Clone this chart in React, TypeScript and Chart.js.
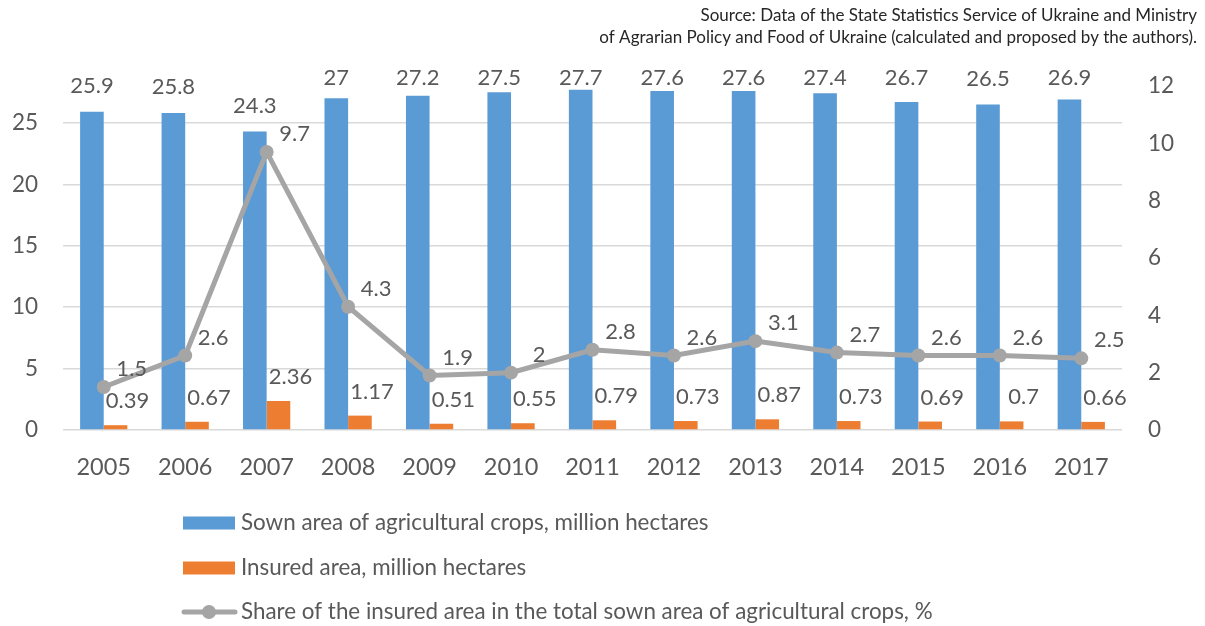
import React, { useEffect, useRef } from "react";
import { Chart, registerables } from "chart.js";

Chart.register(...registerables);

const years = ["2005", "2006", "2007", "2008", "2009", "2010", "2011", "2012", "2013", "2014", "2015", "2016", "2017"];
const sownArea = [25.9, 25.8, 24.3, 27, 27.2, 27.5, 27.7, 27.6, 27.6, 27.4, 26.7, 26.5, 26.9];
const insuredArea = [0.39, 0.67, 2.36, 1.17, 0.51, 0.55, 0.79, 0.73, 0.87, 0.73, 0.69, 0.7, 0.66];
const insuredShare = [1.5, 2.6, 9.7, 4.3, 1.9, 2, 2.8, 2.6, 3.1, 2.7, 2.6, 2.6, 2.5];

const seriesNames = [
  "Sown area of agricultural crops, million hectares",
  "Insured area, million hectares",
  "Share of the insured area in the total sown area of agricultural crops, %",
];
const sourceLines = [
  "Source: Data of the State Statistics Service of Ukraine and Ministry",
  "of Agrarian Policy and Food of Ukraine (calculated and proposed by the authors).",
];

const leftMax = 28;
const leftStep = 5;
const rightMax = 12;
const rightStep = 2;

const BLUE = "#5B9BD5";
const ORANGE = "#ED7D31";
const GREY = "#A5A5A5";
const TEXT = "#595959";
const FONT = "Lato, 'Open Sans', sans-serif";

const sourcePlugin = {
  id: "sourceText",
  afterDraw(chart: any) {
    const { ctx } = chart;
    ctx.save();
    ctx.font = `17px ${FONT}`;
    ctx.fillStyle = "#262626";
    ctx.textAlign = "right";
    ctx.textBaseline = "middle";
    sourceLines.forEach((line, i) => {
      ctx.fillText(line, chart.width - 8, 16 + i * 22);
    });
    ctx.restore();
  },
};

const valueLabelPlugin = {
  id: "valueLabels",
  afterDatasetsDraw(chart: any) {
    const { ctx, chartArea } = chart;
    ctx.save();
    ctx.font = `22px ${FONT}`;
    ctx.fillStyle = TEXT;
    ctx.textAlign = "center";
    ctx.textBaseline = "middle";
    chart.data.datasets.forEach((ds: any, di: number) => {
      const meta = chart.getDatasetMeta(di);
      meta.data.forEach((el: any, i: number) => {
        const v = ds.data[i];
        let x = el.x;
        let y = el.y;
        if (di === 0) {
          y = Math.max(chartArea.top - 8, y - 26);
        } else if (di === 1) {
          x += 12;
          y -= 24;
        } else {
          x += 28;
          y -= 18;
        }
        ctx.fillText(String(v), x, y);
      });
    });
    ctx.restore();
  },
};

const legendPlugin = {
  id: "verticalLegend",
  afterDraw(chart: any) {
    const { ctx } = chart;
    const base = chart.scales.x.bottom;
    const rows = [base + 33, base + 78, base + 122];
    ctx.save();
    ctx.font = `22.4px ${FONT}`;
    ctx.textAlign = "left";
    ctx.textBaseline = "middle";
    chart.data.datasets.forEach((ds: any, i: number) => {
      const y = rows[i];
      if (ds.type === "line") {
        ctx.strokeStyle = ds.borderColor;
        ctx.lineWidth = 5;
        ctx.lineCap = "round";
        ctx.beginPath();
        ctx.moveTo(184, y);
        ctx.lineTo(235, y);
        ctx.stroke();
        ctx.fillStyle = ds.pointBackgroundColor;
        ctx.beginPath();
        ctx.arc(209, y, 7, 0, Math.PI * 2);
        ctx.fill();
      } else {
        ctx.fillStyle = ds.backgroundColor;
        ctx.fillRect(183, y - 6.5, 52, 13);
      }
      ctx.fillStyle = TEXT;
      ctx.fillText(ds.label, 241, y);
    });
    ctx.restore();
  },
};

export default function App() {
  const canvasRef = useRef<HTMLCanvasElement | null>(null);

  useEffect(() => {
    document.body.style.margin = "0";
    const canvas = canvasRef.current;
    if (!canvas) return;
    const chart = new Chart(canvas, {
      type: "bar",
      data: {
        labels: years,
        datasets: [
          {
            type: "bar",
            label: seriesNames[0],
            data: sownArea,
            backgroundColor: BLUE,
            yAxisID: "y",
            categoryPercentage: 0.58,
            barPercentage: 1,
            order: 1,
          },
          {
            type: "bar",
            label: seriesNames[1],
            data: insuredArea,
            backgroundColor: ORANGE,
            yAxisID: "y",
            categoryPercentage: 0.58,
            barPercentage: 1,
            order: 1,
          },
          {
            type: "line",
            label: seriesNames[2],
            data: insuredShare,
            borderColor: GREY,
            backgroundColor: GREY,
            pointBackgroundColor: GREY,
            pointBorderColor: GREY,
            borderWidth: 5,
            pointRadius: 7,
            pointBorderWidth: 0,
            tension: 0,
            yAxisID: "y1",
            order: 0,
          } as any,
        ],
      },
      options: {
        animation: false,
        responsive: true,
        maintainAspectRatio: false,
        layout: { padding: { top: 86, left: 0, right: 0, bottom: 136 } },
        plugins: {
          legend: { display: false },
          tooltip: { enabled: false },
          title: { display: false },
        },
        scales: {
          x: {
            grid: { display: false },
            border: { display: false },
            ticks: { color: TEXT, font: { family: FONT, size: 23.5 }, padding: 15 },
            afterFit: (s: any) => {
              s.height = 60;
            },
          },
          y: {
            position: "left",
            min: 0,
            max: leftMax,
            grid: { color: "#D9D9D9", lineWidth: 1.5, drawTicks: false },
            border: { display: false },
            ticks: {
              stepSize: leftStep,
              includeBounds: false,
              color: TEXT,
              font: { family: FONT, size: 22.5 },
              padding: 25,
            },
            afterFit: (s: any) => {
              s.width = 63;
            },
          },
          y1: {
            position: "right",
            min: 0,
            max: rightMax,
            grid: { display: false, drawTicks: false },
            border: { display: false },
            ticks: {
              stepSize: rightStep,
              color: TEXT,
              font: { family: FONT, size: 22.5 },
              padding: 26,
            },
            afterFit: (s: any) => {
              s.width = 83;
            },
          },
        },
      },
      plugins: [sourcePlugin, valueLabelPlugin, legendPlugin],
    });
    return () => chart.destroy();
  }, []);

  return (
    <div style={{ position: "relative", width: "1205px", height: "626px" }}>
      <canvas ref={canvasRef} />
    </div>
  );
}
